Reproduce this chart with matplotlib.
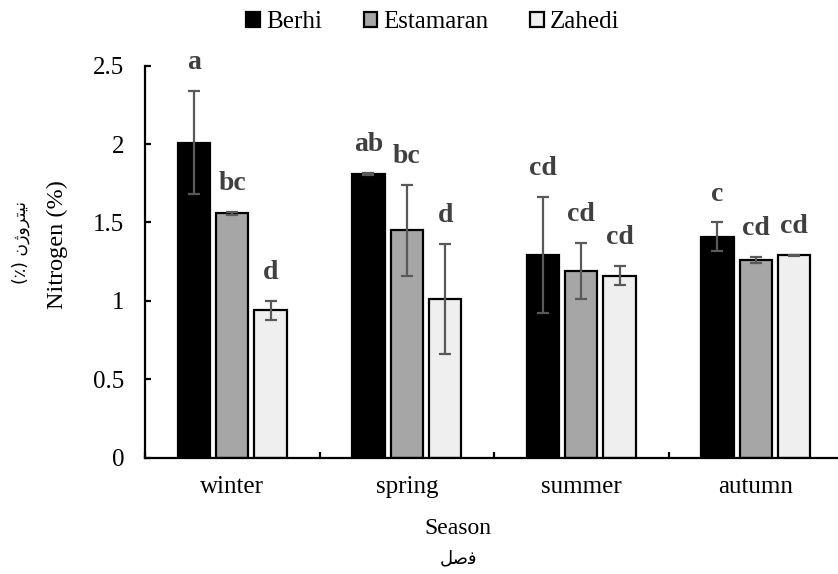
import matplotlib
matplotlib.use("Agg")
import matplotlib.pyplot as plt
import numpy as np
from matplotlib.patches import Patch

plt.rcParams['font.family'] = ['Liberation Serif', 'DejaVu Serif']

seasons = ["winter", "spring", "summer", "autumn"]
cultivars = ["Berhi", "Estamaran", "Zahedi"]
means = {
    "Berhi":     [2.01, 1.81, 1.29, 1.41],
    "Estamaran": [1.56, 1.45, 1.19, 1.26],
    "Zahedi":    [0.94, 1.01, 1.16, 1.29],
}
errors = {
    "Berhi":     [0.33, 0.005, 0.37, 0.09],
    "Estamaran": [0.01, 0.29, 0.18, 0.02],
    "Zahedi":    [0.06, 0.35, 0.06, 0.005],
}
letters = {
    "Berhi":     ["a", "ab", "cd", "c"],
    "Estamaran": ["bc", "bc", "cd", "cd"],
    "Zahedi":    ["d", "d", "cd", "cd"],
}
colors = {"Berhi": "#000000", "Estamaran": "#a6a6a6", "Zahedi": "#efefef"}

# Persian labels, pre-shaped (presentation forms, visual order)
fa_ylabel = "(\u066A) \uFEE5\uFB8A\uFEED\uFEAE\uFE98\uFBFF\uFEE7"
fa_xlabel = "\uFEDE\uFEBB\uFED3"

W, H = 838, 574
fig = plt.figure(figsize=(W / 100, H / 100), dpi=100)
ax = fig.add_axes([145 / W, 1 - 457.7 / H, 698 / W, (457.7 - 65.7) / H])

x = np.arange(len(seasons))
offsets = [-0.22, 0.0, 0.22]
width = 0.185
fs = 18
for off, c in zip(offsets, cultivars):
    ax.bar(x + off, means[c], width, color=colors[c], edgecolor="black",
           linewidth=1.6, zorder=2)
    ax.errorbar(x + off, means[c], yerr=errors[c], fmt="none", ecolor="#595959",
                elinewidth=1.6, capsize=4, capthick=1.6, zorder=3)
    for xi, m, e, lt in zip(x + off, means[c], errors[c], letters[c]):
        ax.text(xi, m + e + 0.14, lt, ha="center", va="baseline",
                fontsize=20, fontweight="bold", color="#404040")

ax.set_xlim(-0.5, 3.5)
ax.set_ylim(0, 2.5)
ax.set_yticks([0, 0.5, 1, 1.5, 2, 2.5])
ax.set_yticklabels(["0", "0.5", "1", "1.5", "2", "2.5"])
ax.set_xticks(x)
ax.set_xticklabels(seasons)
ax.set_xticks(np.arange(-0.5, 4.0, 1.0), minor=True)
ax.tick_params(axis="x", which="major", length=0, pad=13, labelsize=fs)
ax.tick_params(axis="x", which="minor", direction="in", length=4.5, width=1.6)
ax.tick_params(axis="y", direction="in", length=4.5, width=1.6, pad=15, labelsize=fs)
for s in ["top", "right"]:
    ax.spines[s].set_visible(False)
for s in ["left", "bottom"]:
    ax.spines[s].set_linewidth(1.6)

# axis titles
fig.text(458 / W, 1 - 529 / H, "Season", ha="center", va="center", fontsize=17)
fig.text(458 / W, 1 - 558 / H, fa_xlabel, ha="center", va="center", fontsize=13,
         family=["DejaVu Sans"])
fig.text(57 / W, 1 - 245 / H, "Nitrogen (%)", ha="center", va="center",
         rotation=90, fontsize=17.5)
fig.text(21 / W, 1 - 242 / H, fa_ylabel, ha="center", va="center",
         rotation=90, fontsize=12.5, family=["DejaVu Sans"])

handles = [Patch(facecolor=colors[c], edgecolor="black", linewidth=1.6) for c in cultivars]
fig.legend(handles, cultivars, loc="center", bbox_to_anchor=(433 / W, 1 - 22 / H),
           ncol=3, frameon=False, fontsize=fs, handlelength=0.55, handleheight=0.55,
           handletextpad=0.25, columnspacing=1.65)

fig.savefig("out.png", dpi=100)
